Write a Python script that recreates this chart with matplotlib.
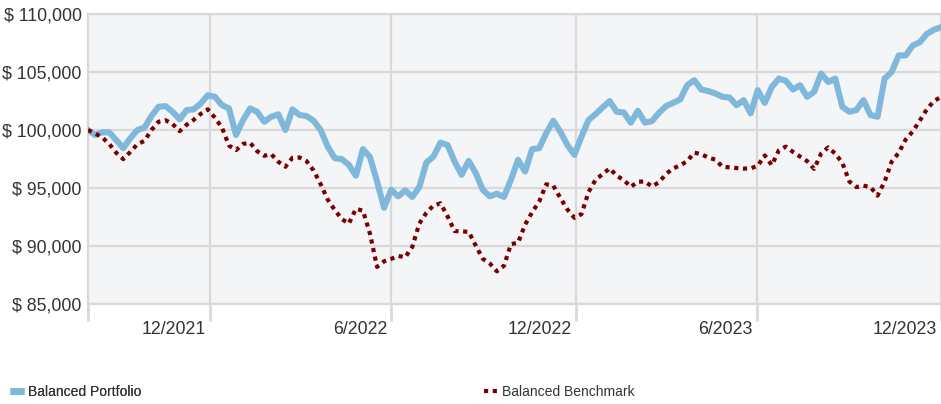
import matplotlib
matplotlib.use("Agg")
import matplotlib.pyplot as plt
from matplotlib.lines import Line2D
from matplotlib.ticker import FuncFormatter
import matplotlib.transforms as mtransforms
import pandas as pd

plt.rcParams['font.family'] = ['Liberation Sans Narrow', 'Liberation Sans', 'DejaVu Sans']

# ---- data (weekly, Sep 2021 - Dec 2023) ----
start_date = "2021-08-31"
end_date = "2023-12-31"

portfolio = [
    100000, 99570, 99800, 99800, 99140, 98430, 99290, 100000, 100200, 101200,
    102000, 102060, 101570, 100920, 101720, 101780, 102290, 103000, 102860, 102140,
    101860, 99570, 100860, 101860, 101570, 100710, 101140, 101350, 100000, 101780,
    101290, 101200, 100800, 100000, 98570, 97570, 97490, 97000, 96060, 98350,
    97660, 95570, 93290, 94850, 94280, 94790, 94230, 95090, 97200, 97710,
    98910, 98710, 97280, 96140, 97340, 96290, 94850, 94280, 94510, 94230,
    95710, 97430, 96420, 98350, 98430, 99720, 100800, 99850, 98710, 97860,
    99430, 100860, 101370, 101950, 102490, 101570, 101520, 100630, 101660, 100630,
    100770, 101480, 102060, 102340, 102630, 103860, 104290, 103490, 103350, 103150,
    102860, 102800, 102140, 102570, 101430, 103430, 102340, 103710, 104430, 104230,
    103490, 103860, 102860, 103290, 104860, 104140, 104430, 102000, 101570, 101720,
    102570, 101290, 101140, 104430, 105000, 106430, 106430, 107290, 107570, 108290,
    108640, 108860,
]

benchmark = [
    100000, 99710, 99370, 98810, 98040, 97490, 98110, 98770, 99060, 100000,
    100710, 100840, 100520, 99900, 100460, 100880, 101390, 101780, 101060, 100210,
    98660, 98270, 98800, 98900, 98170, 97780, 97910, 97260, 96830, 97600,
    97630, 97320, 96510, 95330, 94010, 93110, 92320, 91930, 93200, 93050,
    91060, 88200, 88680, 88890, 89140, 89030, 89920, 91940, 92860, 93490,
    93680, 92560, 91290, 91260, 91220, 90040, 88900, 88490, 87820, 88290,
    90160, 90280, 91840, 92910, 93830, 95320, 95200, 94150, 93150, 92430,
    92750, 94650, 95710, 96200, 96690, 96050, 95690, 95100, 95540, 95560,
    95130, 95500, 96210, 96690, 96950, 97320, 98050, 97910, 97620, 97440,
    96830, 96780, 96720, 96670, 96700, 96910, 97810, 96970, 98250, 98570,
    98110, 97710, 97320, 96650, 97980, 98500, 97960, 97170, 95560, 95080,
    95200, 95080, 94340, 95540, 97270, 98030, 99190, 99880, 100820, 101790,
    102500, 102850,
]

tick_dates = ["2021-12-31", "2022-06-30", "2022-12-31", "2023-06-30", "2023-12-31"]
tick_labels = ["12/2021", "6/2022", "12/2022", "6/2023", "12/2023"]
y_ticks = [85000, 90000, 95000, 100000, 105000, 110000]

series_names = ["Balanced Portfolio", "Balanced Benchmark"]

# ---- styling ----
blue = "#80b8dc"
red = "#7a0000"
grid_c = "#d9d9d9"
bg = "#f4f5f7"
text_c = "#333333"

dates = pd.date_range(start_date, end_date, periods=len(portfolio))

fig = plt.figure(figsize=(9.41, 4.04), dpi=100)
ax = fig.add_axes([88 / 941, 1 - 304 / 404, 1 - 88 / 941, 290 / 404])
ax.set_facecolor(bg)

ax.plot(dates, portfolio, color=blue, lw=4.4, solid_joinstyle='round', zorder=3)
ax.plot(dates, benchmark, color=red, lw=3.0, linestyle=(0, (1, 1.1)),
        dash_capstyle='butt', zorder=4)

ax.set_xlim(pd.Timestamp(start_date), pd.Timestamp(end_date))
ax.set_ylim(85000, 110000)

ax.set_yticks(y_ticks)
ax.yaxis.set_major_formatter(FuncFormatter(lambda v, p: f"$ {v:,.0f}"))
ax.tick_params(axis='y', length=0, pad=4.5, labelsize=12.8, labelcolor=text_c)

xt = [pd.Timestamp(d) for d in tick_dates]
ax.set_xticks(xt)
ax.set_xticklabels(tick_labels)
ax.set_xticks([pd.Timestamp(start_date)], minor=True)
ax.tick_params(axis='x', which='both', length=12, width=2, color=grid_c,
               labelsize=12.8, labelcolor=text_c, pad=0.5)
offset = mtransforms.ScaledTranslation(-4 / 100, 0, fig.dpi_scale_trans)
for lab in ax.get_xticklabels():
    lab.set_horizontalalignment('right')
    lab.set_transform(lab.get_transform() + offset)

ax.grid(True, which='major', color=grid_c, lw=1.6, zorder=0)
ax.set_axisbelow(True)
for side in ['top', 'bottom', 'left']:
    ax.spines[side].set_color(grid_c)
    ax.spines[side].set_linewidth(1.6)
ax.spines['right'].set_visible(False)

# ---- legend ----
h1 = Line2D([], [], color=blue, lw=5.0, solid_capstyle='butt')
h2 = Line2D([], [], color=red, lw=3.0, linestyle=(0, (1, 1.1)), dash_capstyle='butt')
leg1 = fig.legend([h1], [series_names[0]], loc='center left',
                  bbox_to_anchor=(10 / 941, 1 - 392 / 404), frameon=False,
                  handlelength=1.0, handletextpad=0.3, fontsize=10,
                  labelcolor=text_c, borderaxespad=0, borderpad=0)
leg2 = fig.legend([h2], [series_names[1]], loc='center left',
                  bbox_to_anchor=(484 / 941, 1 - 392 / 404), frameon=False,
                  handlelength=1.0, handletextpad=0.3, fontsize=10,
                  labelcolor=text_c, borderaxespad=0, borderpad=0)
fig.add_artist(leg1)

fig.savefig("out.png", dpi=100, facecolor="white")
